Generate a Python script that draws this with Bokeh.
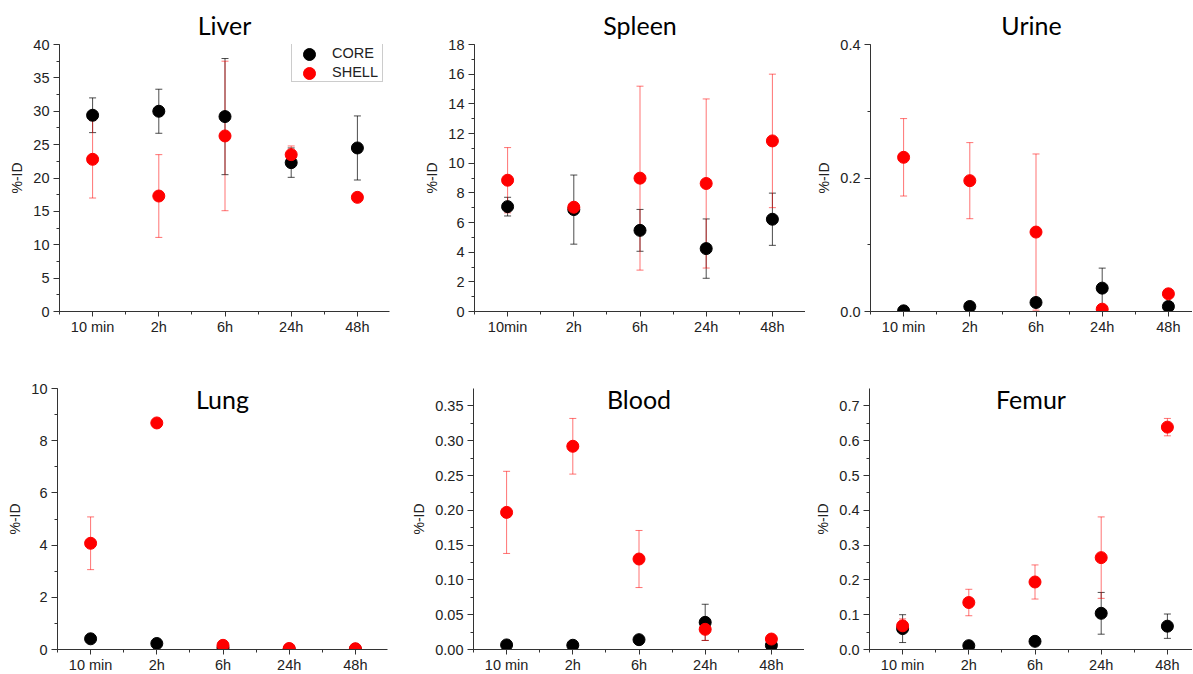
from bokeh.plotting import figure
from bokeh.layouts import column, row
from bokeh.models import (Range1d, FixedTicker, SingleIntervalTicker, PrintfTickFormatter,
                          Label, Legend, LegendItem, ColumnDataSource)
from bokeh.embed import file_html
from bokeh.resources import INLINE

# ---------------- data ----------------
categories = ["10 min", "2h", "6h", "24h", "48h"]
spleen_categories = ["10min", "2h", "6h", "24h", "48h"]
series_names = ["CORE", "SHELL"]

liver_core = [29.4, 30.0, 29.2, 22.3, 24.5]
liver_core_err = [2.6, 3.3, 8.7, 2.2, 4.8]
liver_shell = [22.8, 17.3, 26.3, 23.5, 17.1]
liver_shell_err = [5.8, 6.2, 11.2, 1.3, 0.2]

spleen_core = [7.07, 6.87, 5.47, 4.24, 6.22]
spleen_core_err = [0.63, 2.33, 1.41, 2.0, 1.76]
spleen_shell = [8.85, 7.03, 8.99, 8.63, 11.5]
spleen_shell_err = [2.2, 0.2, 6.2, 5.7, 4.5]

urine_core = [0.001, 0.0075, 0.0135, 0.035, 0.0075]
urine_core_err = [0.0005, 0.002, 0.004, 0.03, 0.002]
urine_shell = [0.231, 0.196, 0.119, 0.0035, 0.0265]
urine_shell_err = [0.058, 0.057, 0.117, 0.002, 0.003]

lung_core = [0.41, 0.23, 0.06, 0.01, 0.01]
lung_core_err = [0.03, 0.03, 0.05, 0.005, 0.005]
lung_shell = [4.07, 8.68, 0.16, 0.04, 0.03]
lung_shell_err = [1.01, 0.05, 0.05, 0.02, 0.01]

blood_core = [0.0066, 0.0061, 0.0141, 0.039, 0.006]
blood_core_err = [0.001, 0.001, 0.002, 0.026, 0.004]
blood_shell = [0.197, 0.292, 0.130, 0.029, 0.015]
blood_shell_err = [0.059, 0.040, 0.041, 0.016, 0.003]

femur_core = [0.060, 0.011, 0.0235, 0.104, 0.067]
femur_core_err = [0.04, 0.005, 0.004, 0.06, 0.035]
femur_shell = [0.068, 0.135, 0.194, 0.264, 0.639]
femur_shell_err = [0.02, 0.038, 0.049, 0.117, 0.025]

# ---------------- style ----------------
TICK_FONT = "Liberation Sans"
TITLE_FONT = "Lato"
AXIS_COLOR = "#333333"
CORE_COLOR = "#000000"
SHELL_COLOR = "#ff0000"
CAT_PX = 66.2
MARKER_SIZE = 12


def add_legend(p, r_core, r_shell, frame_h):
    # text + frame of the legend (glyphs kept invisible, drawn larger below)
    ghost_core = p.scatter(x=[], y=[], marker="circle", fill_alpha=0, line_alpha=0)
    ghost_shell = p.scatter(x=[], y=[], marker="circle", fill_alpha=0, line_alpha=0)
    box_h = 38
    main = Legend(items=[LegendItem(label=series_names[0], renderers=[ghost_core]),
                         LegendItem(label=series_names[1], renderers=[ghost_shell])],
                  location=(232, frame_h - box_h), margin=0,
                  padding=dict(left=4, right=4, top=0, bottom=0), spacing=0,
                  glyph_width=30, glyph_height=19, label_height=19, label_width=45,
                  label_standoff=6, label_text_font=TICK_FONT,
                  label_text_font_size="14.5px", label_text_color="#222222",
                  border_line_color="#9a9a9a", border_line_width=1,
                  background_fill_color="white", background_fill_alpha=1.0)
    p.add_layout(main)
    # big legend markers (12 px = 0.4 * 30 px glyph box)
    for i, r in enumerate((r_core, r_shell)):
        cy = frame_h - 9.5 - 19 * i
        lg = Legend(items=[LegendItem(label="", renderers=[r])],
                    location=(232 + 18 - 15, cy - 15), margin=0, padding=0, spacing=0,
                    glyph_width=30, glyph_height=30, label_height=0, label_width=0,
                    label_standoff=0, border_line_color=None,
                    background_fill_alpha=0.0, label_text_font_size="1px")
        p.add_layout(lg)


def panel(title, cats, core, core_err, shell, shell_err, ymax, yint, fmt,
          frame_w, frame_h, bl, br, bt, bb, title_inside=None, legend=False):
    xs = list(range(1, len(cats) + 1))
    x_end = 0.5 + frame_w / CAT_PX
    p = figure(frame_width=frame_w, frame_height=frame_h,
               min_border_left=bl, min_border_right=br,
               min_border_top=bt, min_border_bottom=bb,
               x_range=Range1d(0.5, x_end), y_range=Range1d(0, ymax),
               output_backend="svg", toolbar_location=None, tools="")
    p.outline_line_color = None
    p.xgrid.visible = False
    p.ygrid.visible = False
    p.background_fill_color = "white"
    p.border_fill_color = "white"

    xa = p.xaxis[0]
    xa.ticker = FixedTicker(ticks=xs, minor_ticks=[x - 0.5 for x in xs] + [xs[-1] + 0.5])
    xa.major_label_overrides = {x: c for x, c in zip(xs, cats)}
    xa.major_tick_in = 0
    xa.major_tick_out = 5
    xa.minor_tick_in = 0
    xa.minor_tick_out = 3
    xa.major_label_standoff = 2

    ya = p.yaxis[0]
    ya.ticker = SingleIntervalTicker(interval=yint, num_minor_ticks=2)
    ya.formatter = PrintfTickFormatter(format=fmt)
    ya.major_tick_in = 0
    ya.major_tick_out = 6
    ya.minor_tick_in = 0
    ya.minor_tick_out = 3
    ya.major_label_standoff = 4
    ya.axis_label = "%-ID"
    ya.axis_label_standoff = 5
    ya.axis_label_text_font = TICK_FONT
    ya.axis_label_text_font_size = "14px"
    ya.axis_label_text_font_style = "normal"
    ya.axis_label_text_color = "#222222"

    for ax in (xa, ya):
        ax.axis_line_color = AXIS_COLOR
        ax.major_tick_line_color = AXIS_COLOR
        ax.minor_tick_line_color = AXIS_COLOR
        ax.major_label_text_font = TICK_FONT
        ax.major_label_text_font_size = "14.5px"
        ax.major_label_text_color = "#222222"

    sources = []
    for vals, errs, color, alpha in ((core, core_err, CORE_COLOR, 0.7),
                                     (shell, shell_err, SHELL_COLOR, 0.55)):
        src = ColumnDataSource(dict(
            x=xs, y=vals,
            lo=[v - e for v, e in zip(vals, errs)],
            hi=[v + e for v, e in zip(vals, errs)]))
        p.segment(x0="x", y0="lo", x1="x", y1="hi", source=src,
                  line_color=color, line_alpha=alpha, line_width=1)
        p.scatter(x="x", y="hi", source=src, marker="dash", size=7,
                  line_color=color, line_alpha=alpha, line_width=1)
        p.scatter(x="x", y="lo", source=src, marker="dash", size=7,
                  line_color=color, line_alpha=alpha, line_width=1)
        sources.append(src)

    r_core = p.scatter(x="x", y="y", source=sources[0], marker="circle", size=MARKER_SIZE,
                       fill_color=CORE_COLOR, line_color=CORE_COLOR)
    r_shell = p.scatter(x="x", y="y", source=sources[1], marker="circle", size=MARKER_SIZE,
                        fill_color=SHELL_COLOR, line_color=SHELL_COLOR)

    if title_inside is None:
        p.title.text = title
        p.title.align = "center"
        p.title.text_font = TITLE_FONT
        p.title.text_font_size = "25px"
        p.title.text_font_style = "normal"
        p.title.text_color = "#000000"
        p.title.standoff = 9
    else:
        ty = ymax + title_inside * ymax / frame_h
        p.add_layout(Label(x=(0.5 + x_end) / 2, y=ty, text=title, text_align="center",
                           text_baseline="top", text_font=TITLE_FONT, level="overlay",
                           text_font_size="25px", text_color="#000000"))

    if legend:
        add_legend(p, r_core, r_shell, frame_h)
    return p


TOP_H, TOP_BT, TOP_BB = 267, 44, 37
BOT_H, BOT_BT, BOT_BB = 261, 40, 24

liver = panel("Liver", categories, liver_core, liver_core_err, liver_shell, liver_shell_err,
              40, 5, "%d", 330, TOP_H, 59, 11, TOP_BT, TOP_BB, legend=True)
spleen = panel("Spleen", spleen_categories, spleen_core, spleen_core_err, spleen_shell,
               spleen_shell_err, 18, 2, "%d", 331, TOP_H, 74, 0, TOP_BT, TOP_BB)
urine = panel("Urine", categories, urine_core, urine_core_err, urine_shell, urine_shell_err,
              0.4, 0.2, "%.1f", 322, TOP_H, 65, 0, TOP_BT, TOP_BB)

lung = panel("Lung", categories, lung_core, lung_core_err, lung_shell, lung_shell_err,
             10, 2, "%d", 330, BOT_H, 57, 13, BOT_BT, BOT_BB, title_inside=5)
blood = panel("Blood", categories, blood_core, blood_core_err, blood_shell, blood_shell_err,
              0.375, 0.05, "%.2f", 331, BOT_H, 73, 0, BOT_BT, BOT_BB, title_inside=5)
femur = panel("Femur", categories, femur_core, femur_core_err, femur_shell, femur_shell_err,
              0.75, 0.1, "%.1f", 323, BOT_H, 65, 0, BOT_BT, BOT_BB, title_inside=5)

layout = column(row(liver, spleen, urine, spacing=0), row(lung, blood, femur, spacing=0), spacing=0)

open("out.html", "w").write(file_html(layout, INLINE))
